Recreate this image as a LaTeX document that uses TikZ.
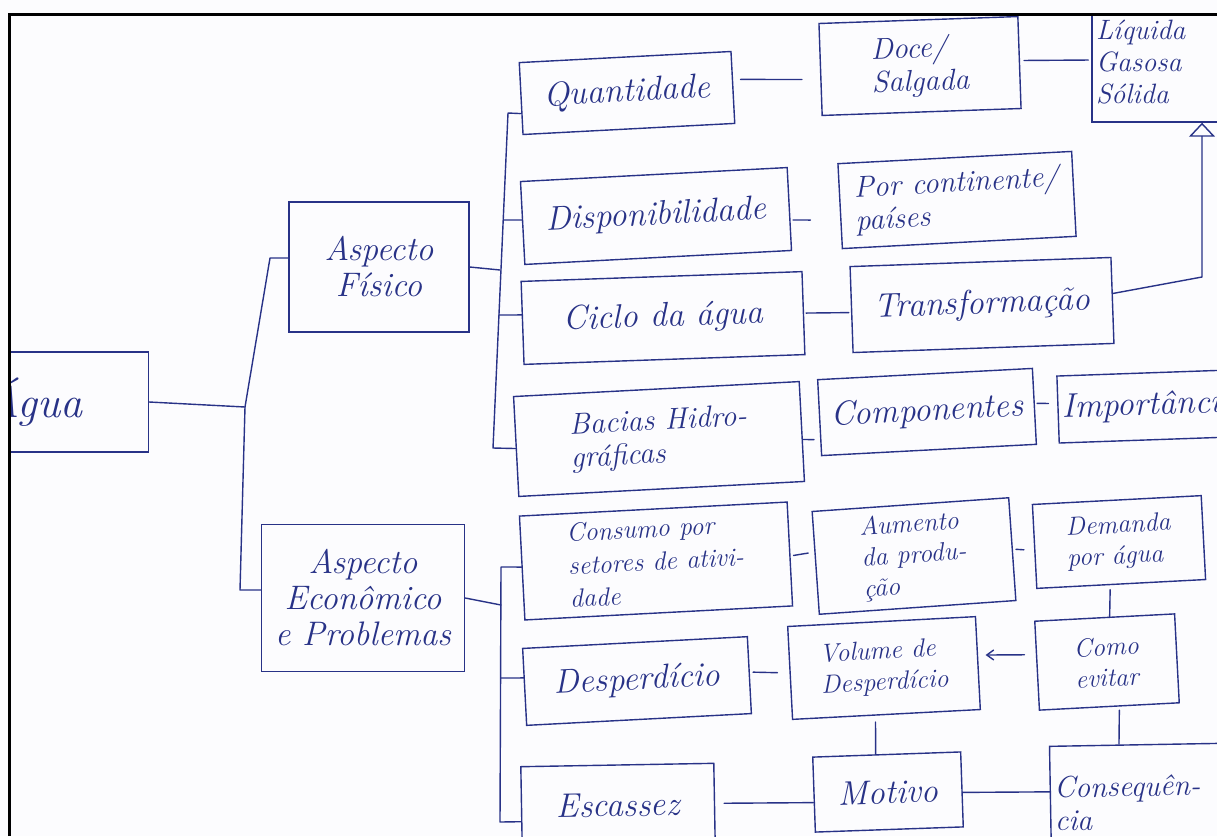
\documentclass[tikz,border=0pt]{standalone}
\usepackage{fontspec}
\usetikzlibrary{arrows.meta}
\definecolor{ink}{RGB}{40,50,135}
\definecolor{paper}{RGB}{252,252,254}
\begin{document}
\begin{tikzpicture}[x=1pt,y=-1pt,
  box/.style={draw=ink, line width=1.4pt, text=ink, rectangle, inner sep=4pt, align=center,
    font=\fontsize{30}{33}\selectfont\itshape},
  big/.style={font=\fontsize{34}{36}\selectfont\itshape},
  small/.style={font=\fontsize{26}{31}\selectfont\itshape},
  link/.style={draw=ink, line width=1.4pt, line cap=round, line join=round},
  openhead/.style={-{Triangle[open, length=14pt, width=26pt, line width=1.4pt]}},
  barb/.style={-{Straight Barb[length=7pt, width=10pt, line width=1.4pt]}}
]
\useasboundingbox (0,0) rectangle (1217,836);
\fill[paper] (0,0) rectangle (1217,836);
\begin{scope}
\clip (10,15) rectangle (1217,836);
% nodes
\node[box, text width=157pt, align=left, minimum height=100pt,
  font=\fontsize{44}{44}\selectfont\itshape] (agua) at (66,402) {Água};
\node[box, big, minimum width=180pt, minimum height=130pt] (af) at (379,267) {Aspecto\\Físico};
\node[box, big, minimum width=203pt, minimum height=147pt] (ae) at (363,598) {Aspecto\\Econômico\\e Problemas};
\node[box, big, rotate=3, minimum width=212pt, minimum height=72pt] (quant) at (627,93) {Quantidade};
\node[box, rotate=2, minimum width=199pt, minimum height=92pt, align=left] (doce) at (920,66) {Doce/\\Salgada};
\node[box, text width=140pt, align=left, minimum height=120pt,
  font=\fontsize{28}{32}\selectfont\itshape] (liq) at (1166,62) {Líquida\\Gasosa\\Sólida};
\node[box, big, rotate=3, minimum width=267pt, minimum height=83pt] (disp) at (656,216) {Disponibilidade};
\node[box, rotate=3, minimum width=234pt, minimum height=85pt, align=left] (pais) at (957,200) {Por continente/\\países};
\node[box, big, rotate=2, minimum width=281pt, minimum height=83pt] (ciclo) at (663,318) {Ciclo da água};
\node[box, big, rotate=2, minimum width=261pt, minimum height=86pt] (transf) at (982,305) {Transformação};
\node[box, rotate=3, minimum width=286pt, minimum height=100pt, align=left] (bacias) at (659,439) {Bacias Hidro-\\gráficas};
\node[box, big, rotate=3, minimum width=215pt, minimum height=76pt] (comp) at (927,412) {Componentes};
\node[box, big, rotate=2, text width=194pt, align=left, minimum height=67pt] (imp) at (1159,406) {Importância};
\node[box, rotate=3, minimum width=268pt, minimum height=104pt, align=left,
  font=\fontsize{26}{33}\selectfont\itshape] (cons) at (656,561) {Consumo por\\setores de ativi-\\dade};
\node[box, small, rotate=4, minimum width=197pt, minimum height=103pt, align=left] (aum) at (914,556) {Aumento\\da produ-\\ção};
\node[box, small, rotate=3, minimum width=169pt, minimum height=84pt, align=left] (dem) at (1119,542) {Demanda\\por água};
\node[box, small, rotate=3, minimum width=140pt, minimum height=89pt, align=left] (como) at (1107,662) {Como\\evitar};
\node[box, small, rotate=3, minimum width=188pt, minimum height=93pt, align=left] (vol) at (884,668) {Volume de\\Desperdício};
\node[box, big, rotate=3, minimum width=225pt, minimum height=77pt] (desp) at (637,681) {Desperdício};
\node[box, big, rotate=1, minimum width=193pt, minimum height=80pt] (esc) at (618,805) {Escassez};
\node[box, big, rotate=2, minimum width=148pt, minimum height=75pt] (mot) at (888,792) {Motivo};
\node[box, rotate=1, text width=201pt, align=left, minimum height=115pt] (conseq) at (1155,802) {Consequên-\\cia};
% junction coordinates
\coordinate (J1) at (245,407);
\coordinate (T1a) at (270,258);
\coordinate (T1b) at (240,590);
\coordinate (T2a) at (508,113);
\coordinate (T2b) at (493,448);
\coordinate (P2d) at (504,220);
\coordinate (P2af) at (500,270);
\coordinate (P2c) at (499,315);
\coordinate (T3a) at (501,567);
\coordinate (T3b) at (500,822);
\coordinate (P3ae) at (501,605);
\coordinate (P3d) at (501,678);
\coordinate (A1) at (1202,277);
% tree connectors
\draw[link] (agua.east) -- (J1);
\draw[link] ([yshift=9pt]af.west) -- (T1a) -- (J1) -- (T1b) -- ([yshift=8pt]ae.west);
\draw[link] ([yshift=-15pt]quant.west) -- (T2a) -- (T2b) -- ([yshift=-2pt]bacias.west);
\draw[link] (af.east) -- (P2af);
\draw[link] ([yshift=3pt]disp.west) -- (P2d);
\draw[link] ([yshift=8pt]ciclo.west) -- (P2c);
\draw[link] ([yshift=1pt]cons.west) -- (T3a) -- (T3b) -- ([yshift=-15pt]esc.west);
\draw[link] (ae.east) -- (P3ae);
\draw[link] ([yshift=9pt]desp.west) -- (P3d);
% box-to-box connectors
\draw[link, shorten <=7pt, shorten >=18pt] ([yshift=8pt]quant.east) -- ([yshift=-10pt]doce.west);
\draw[link, shorten <=4pt, shorten >=3pt] ([yshift=2pt]doce.east) -- ([yshift=2pt]liq.west);
\draw[link, shorten <=3pt, shorten >=29pt] ([yshift=-11pt]disp.east) -- ([yshift=-14pt]pais.west);
\draw[link, shorten <=2pt, shorten >=2pt] (ciclo.east) -- ([yshift=-3pt]transf.west);
\draw[link, openhead] ([yshift=7pt]transf.east) -- (A1) -- (A1 |- liq.south);
\draw[link, shorten >=5pt] ([yshift=-8pt]bacias.east) -- ([yshift=-22pt]comp.west);
\draw[link, shorten <=2pt, shorten >=9pt] ([yshift=3pt]comp.east) -- ([yshift=6pt]imp.west);
\draw[link, shorten <=3pt, shorten >=7pt] ([yshift=-2pt]cons.east) -- ([yshift=11pt]aum.west);
\draw[link, shorten <=3pt, shorten >=10pt] (aum.east) -- ([yshift=-4pt]dem.west);
\draw[link, shorten <=5pt] ([xshift=-11pt]dem.south) -- ([xshift=5pt]como.north);
\draw[link, barb, shorten <=12pt, shorten >=7pt] ([yshift=11pt]como.west) -- ([yshift=8pt]vol.east);
\draw[link, shorten <=3pt, shorten >=12pt] ([yshift=3pt]desp.east) -- (vol.west);
\draw[link, shorten <=7pt] ([xshift=-11pt]vol.south) -- ([xshift=-11pt]mot.north);
\draw[link, shorten <=3pt] ([xshift=10pt]como.south) -- ([xshift=-35pt]conseq.north);
\draw[link] ([yshift=12pt]conseq.west) -- ([yshift=-3pt]mot.east);
\draw[link, shorten <=9pt] (esc.east) -- ([yshift=-8pt]mot.west);
\end{scope}
\draw[black, line width=3pt] (9,836) -- (9,14) -- (1217,14);
\end{tikzpicture}
\end{document}
